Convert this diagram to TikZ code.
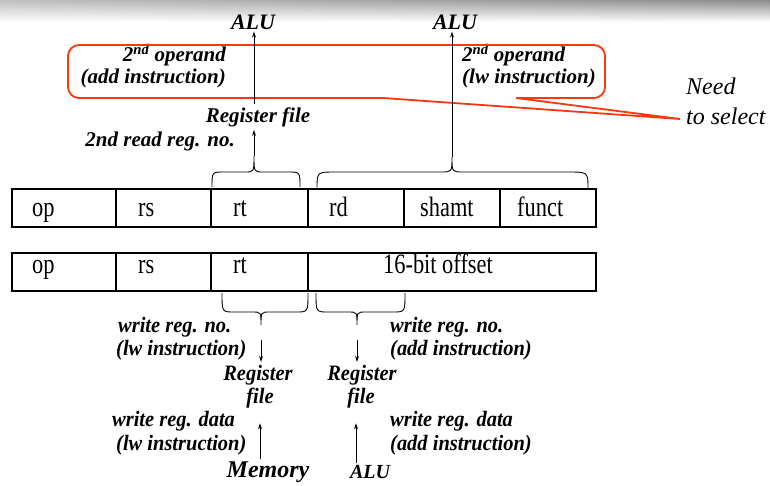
\documentclass[tikz,border=0pt]{standalone}
\usepackage{fontspec}
\setmainfont{Liberation Serif}
\newfontfamily\rowfont[FakeStretch=0.8]{Liberation Serif}
\newfontfamily\lblfont[FakeStretch=0.93]{Liberation Serif}
\usetikzlibrary{arrows.meta,fadings}
\definecolor{calloutred}{RGB}{250,55,15}
\tikzset{
  lbl/.style={font=\bfseries\itshape\fontsize{21}{25}\selectfont, inner sep=0pt},
  blbl/.style={font=\lblfont\bfseries\itshape\fontsize{22}{26}\selectfont, inner sep=0pt},
  itl/.style={font=\itshape\fontsize{24}{28}\selectfont, inner sep=0pt, anchor=west},
  celltxt/.style={font=\rowfont\fontsize{28}{30}\selectfont, inner sep=0pt, anchor=base west},
  cellline/.style={line width=1.3pt},
  arr/.style={line width=0.8pt, -{Stealth[length=6pt,width=4pt]}},
  bracepath/.style={line width=0.9pt},
  callout/.style={draw=calloutred, line width=1.8pt},
}
\begin{document}
\begin{tikzpicture}[x=1pt,y=-1pt]
\useasboundingbox (0,0) rectangle (770,485);
% grey banner
\shade[left color=black!25, right color=black!45, path fading=south] (0,0) rectangle (770,22);

% instruction rows
\draw[cellline] (12,189) rectangle (596,227);
\foreach \x in {116,211,308,404,500} \draw[cellline] (\x,189) -- (\x,227);
\draw[cellline] (12,253) rectangle (596,291);
\foreach \x in {116,211,308} \draw[cellline] (\x,253) -- (\x,291);

\node[celltxt] (r1op) at (32,216) {op};
\node[celltxt] (r1rs) at (138,216) {rs};
\node[celltxt] (r1rt) at (233,216) {rt};
\node[celltxt] (r1rd) at (329,216) {rd};
\node[celltxt] (r1sh) at (420,216) {shamt};
\node[celltxt] (r1fn) at (517,216) {funct};
\node[celltxt] (r2op) at (32,273) {op};
\node[celltxt] (r2rs) at (138,273) {rs};
\node[celltxt] (r2rt) at (233,273) {rt};
\node[celltxt, anchor=base] (r2off) at (438,273) {16-bit offset};

% braces above row 1
\draw[bracepath] (212,187) .. controls (212,172) .. (224,172) -- (245,172)
  .. controls (254,172) .. (254,156) .. controls (254,172) .. (263,172)
  -- (288,172) .. controls (300,172) .. (300,187);
\coordinate (bt1) at (254,156);
\draw[bracepath] (317,189) .. controls (317,172) .. (335,172) -- (441,172)
  .. controls (452,172) .. (452,157) .. controls (452,172) .. (463,172)
  -- (568,172) .. controls (588,172) .. (588,189);
\coordinate (bt2) at (452,157);

% braces below row 2
\draw[bracepath] (222,293) .. controls (222,312) .. (234,312) -- (252,312)
  .. controls (261,312) .. (261,325) .. controls (261,312) .. (270,312)
  -- (296,312) .. controls (308,312) .. (308,293);
\coordinate (bb1) at (261,325);
\draw[bracepath] (316,293) .. controls (316,312) .. (328,312) -- (348,312)
  .. controls (357,312) .. (357,325) .. controls (357,312) .. (366,312)
  -- (393,312) .. controls (405,312) .. (405,293);
\coordinate (bb2) at (357,325);

% top labels
\node[lbl, font=\bfseries\itshape\fontsize{22}{26}\selectfont, inner sep=2pt] (aluL) at (253,22) {ALU};
\node[lbl, font=\bfseries\itshape\fontsize{22}{26}\selectfont, inner sep=2pt] (aluR) at (455,22) {ALU};
\node[lbl, anchor=east] (opA1) at (226,55) {2\textsuperscript{nd} operand};
\node[lbl, anchor=east] (opA2) at (226,78) {(add instruction)};
\node[lbl, anchor=west] (opB1) at (462,55) {2\textsuperscript{nd} operand};
\node[lbl, anchor=west] (opB2) at (462,78) {(lw instruction)};
\node[lbl, inner sep=3pt] (rf) at (258,117) {Register file};
\node[lbl, anchor=east] (rd2) at (235,141) {2nd read reg. no.};
\node[itl] (need1) at (686,86) {Need};
\node[itl] (need2) at (686,116) {to select};

% callout
\draw[callout, rounded corners=11pt] (383,98) -- (68,98) -- (68,45) -- (605,45) -- (605,98) -- (516,98);
\draw[callout, line join=miter] (383,98) -- (680,119) -- (516,98);

% top arrows
\draw[arr] (bt1) -- (bt1 |- rf.south);
\draw[arr] (rf.north -| bt1) -- (aluL.south -| bt1);
\draw[arr] (bt2) -- (aluR.south -| bt2);

% bottom labels
\node[blbl, anchor=west] (wl1) at (118,327) {write reg. no.};
\node[blbl, anchor=west] (wl2) at (116,350) {(lw instruction)};
\node[blbl, anchor=west] (wr1) at (390,327) {write reg. no.};
\node[blbl, anchor=west] (wr2) at (390,350) {(add instruction)};
\node[blbl, inner sep=3pt] (regL) at (258,375) {Register};
\node[blbl, inner sep=3pt] (fileL) at (260,398) {file};
\node[blbl, inner sep=3pt] (regR) at (362,375) {Register};
\node[blbl, inner sep=3pt] (fileR) at (361,398) {file};
\node[blbl, anchor=west] (dl1) at (112,421) {write reg. data};
\node[blbl, anchor=west] (dl2) at (116,445) {(lw instruction)};
\node[blbl, anchor=west] (dr1) at (390,421) {write reg. data};
\node[blbl, anchor=west] (dr2) at (390,445) {(add instruction)};
\node[blbl, inner sep=2pt, font=\bfseries\itshape\fontsize{24}{28}\selectfont] (mem) at (268,472) {Memory};
\node[blbl, inner sep=2pt, font=\bfseries\itshape\fontsize{20}{24}\selectfont] (aluB) at (370,472) {ALU};

\coordinate (xl) at (260,0);
\coordinate (xr) at (356,0);
% bottom arrows
\draw[arr, shorten <=15pt] (bb1) -- (bb1 |- regL.north);
\draw[arr, shorten <=15pt] (bb2) -- (bb2 |- regR.north);
\draw[arr, shorten >=12pt] (mem.north -| xl) -- (fileL.south -| xl);
\draw[arr, shorten >=12pt] (aluB.north -| xr) -- (fileR.south -| xr);
\end{tikzpicture}
\end{document}
